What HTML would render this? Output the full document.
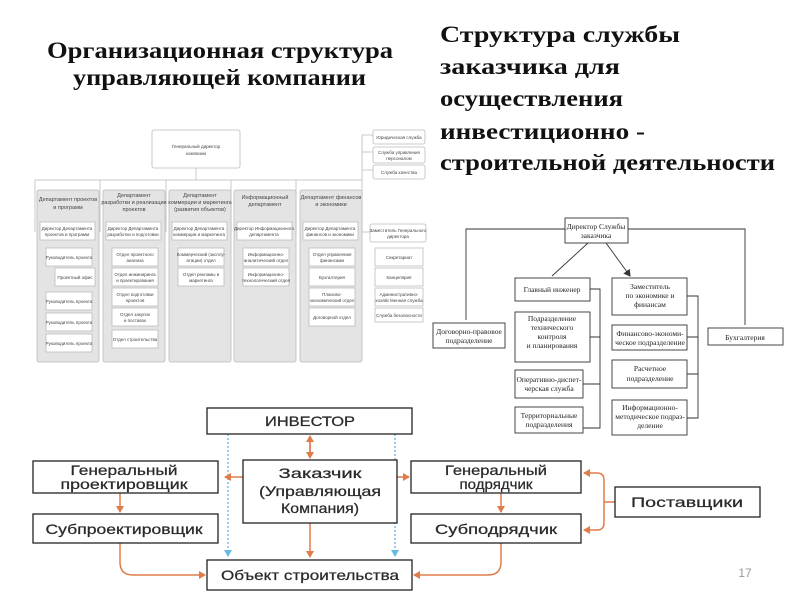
<!DOCTYPE html>
<html><head><meta charset="utf-8"><style>
body{margin:0;background:#fff}
svg text{font-family:"Liberation Sans","DejaVu Sans",sans-serif}
.s{font-family:"Liberation Serif",serif}
</style></head><body>
<svg width="800" height="600" viewBox="0 0 800 600" xmlns="http://www.w3.org/2000/svg">
<defs>
<marker id="o" markerWidth="8" markerHeight="8" refX="6" refY="4" orient="auto" markerUnits="userSpaceOnUse"><path d="M0,0 L7,4 L0,8 z" fill="#e07b4a"/></marker>
<marker id="b" markerWidth="8" markerHeight="8" refX="6" refY="4" orient="auto" markerUnits="userSpaceOnUse"><path d="M0,0 L7,4 L0,8 z" fill="#6ab8e8"/></marker>
<marker id="k" markerWidth="8" markerHeight="8" refX="6" refY="4" orient="auto" markerUnits="userSpaceOnUse"><path d="M0,0 L7,4 L0,8 z" fill="#333"/></marker>
</defs>
<!-- titles -->
<g font-weight="bold" font-size="23" fill="#111">
<text class="s" x="47" y="58" textLength="346" lengthAdjust="spacingAndGlyphs">Организационная  структура</text>
<text class="s" x="73" y="85" textLength="293" lengthAdjust="spacingAndGlyphs">управляющей  компании</text>
</g>
<g font-weight="bold" font-size="23" fill="#111">
<text class="s" x="440" y="42" textLength="240" lengthAdjust="spacingAndGlyphs">Структура   службы</text>
<text class="s" x="440" y="74" textLength="180" lengthAdjust="spacingAndGlyphs">заказчика   для</text>
<text class="s" x="440" y="106" textLength="183" lengthAdjust="spacingAndGlyphs">осуществления</text>
<text class="s" x="440" y="139" textLength="205" lengthAdjust="spacingAndGlyphs">инвестиционно -</text>
<text class="s" x="440" y="170" textLength="335" lengthAdjust="spacingAndGlyphs">строительной  деятельности</text>
</g>
<!-- left org chart -->
<g stroke="#bbb" fill="#fff" stroke-width="0.8">
<rect x="152" y="130" width="88" height="38" rx="2"/>
<path d="M196,168 V180 M35,180 H362 M35,180 V232 M100,180 V232 M166,180 V232 M231,180 V232 M296,180 V232 M362,180 V232 M362,180 V135 H373 M362,152 H373 M362,170 H373 M362,232 H373" fill="none"/>
<g fill="#e4e4e4">
<rect x="37" y="190" width="62" height="172" rx="2"/>
<rect x="103" y="190" width="62" height="172" rx="2"/>
<rect x="169" y="190" width="62" height="172" rx="2"/>
<rect x="234" y="190" width="62" height="172" rx="2"/>
<rect x="300" y="190" width="62" height="172" rx="2"/>
</g>
<rect x="40" y="222" width="55" height="18"/><rect x="106" y="222" width="55" height="18"/><rect x="172" y="222" width="55" height="18"/><rect x="237" y="222" width="55" height="18"/><rect x="303" y="222" width="55" height="18"/>
<rect x="46" y="248" width="46" height="18"/><rect x="55" y="268" width="40" height="18"/><rect x="46" y="292" width="46" height="18"/><rect x="46" y="313" width="46" height="18"/><rect x="46" y="334" width="46" height="18"/>
<rect x="112" y="248" width="46" height="18"/><rect x="112" y="268" width="46" height="18"/><rect x="112" y="288" width="46" height="18"/><rect x="112" y="308" width="46" height="18"/><rect x="112" y="330" width="46" height="18"/>
<rect x="178" y="248" width="46" height="18"/><rect x="178" y="268" width="46" height="18"/>
<rect x="243" y="248" width="46" height="18"/><rect x="243" y="268" width="46" height="18"/>
<rect x="309" y="248" width="46" height="18"/><rect x="309" y="268" width="46" height="18"/><rect x="309" y="288" width="46" height="18"/><rect x="309" y="308" width="46" height="18"/>
<rect x="373" y="130" width="52" height="14" rx="2"/><rect x="373" y="147" width="52" height="16" rx="2"/><rect x="373" y="165" width="52" height="14" rx="2"/>
<rect x="370" y="224" width="56" height="18" rx="2"/><rect x="375" y="248" width="48" height="18"/><rect x="375" y="268" width="48" height="18"/><rect x="375" y="288" width="48" height="18"/><rect x="375" y="308" width="48" height="14"/>
</g>
<g font-size="4.5" fill="#444" text-anchor="middle">
<text x="196" y="148">Генеральный директор</text><text x="196" y="155">компании</text>
<text x="68" y="201" font-size="5.5">Департамент проектов</text><text x="68" y="209" font-size="5.5">и программ</text>
<text x="134" y="197" font-size="5.5">Департамент</text><text x="134" y="204" font-size="5.5">разработки и реализации</text><text x="134" y="211" font-size="5.5">проектов</text>
<text x="200" y="197" font-size="5.5">Департамент</text><text x="200" y="204" font-size="5.5">коммерции и маркетинга</text><text x="200" y="211" font-size="5.5">(развития объектов)</text>
<text x="265" y="199" font-size="5.5">Информационный</text><text x="265" y="206" font-size="5.5">департамент</text>
<text x="331" y="199" font-size="5.5">Департамент финансов</text><text x="331" y="206" font-size="5.5">и экономики</text>
<text x="399" y="139">Юридическая служба</text><text x="399" y="154">Служба управления</text><text x="399" y="160">персоналом</text><text x="399" y="174">Служба качества</text>
<text x="398" y="232">Заместитель Генерального</text><text x="398" y="238">директора</text>
<text x="399" y="259">Секретариат</text><text x="399" y="279">Канцелярия</text><text x="399" y="296">Административно-</text><text x="399" y="302">хозяйственная служба</text><text x="399" y="317">Служба безопасности</text>
<text x="67" y="230">Директор Департамента</text><text x="67" y="236">проектов и программ</text>
<text x="69" y="259">Руководитель проекта</text><text x="75" y="279">Проектный офис</text><text x="69" y="303">Руководитель проекта</text><text x="69" y="324">Руководитель проекта</text><text x="69" y="345">Руководитель проекта</text>
<text x="133" y="230">Директор Департамента</text><text x="133" y="236">разработки и подготовки</text>
<text x="135" y="256">Отдел проектного</text><text x="135" y="262">анализа</text><text x="135" y="276">Отдел инжиниринга</text><text x="135" y="282">и проектирования</text><text x="135" y="296">Отдел подготовки</text><text x="135" y="302">проектов</text><text x="135" y="316">Отдел закупок</text><text x="135" y="322">и поставок</text><text x="135" y="341">Отдел строительства</text>
<text x="199" y="230">Директор Департамента</text><text x="199" y="236">коммерции и маркетинга</text><text x="201" y="256">Коммерческий (эксплу-</text><text x="201" y="262">атации) отдел</text><text x="201" y="276">Отдел рекламы и</text><text x="201" y="282">маркетинга</text>
<text x="264" y="230">Директор Информационного</text><text x="264" y="236">департамента</text><text x="266" y="256">Информационно-</text><text x="266" y="262">аналитический отдел</text><text x="266" y="276">Информационно-</text><text x="266" y="282">технологический отдел</text>
<text x="330" y="230">Директор Департамента</text><text x="330" y="236">финансов и экономики</text><text x="332" y="256">Отдел управления</text><text x="332" y="262">финансами</text><text x="332" y="279">Бухгалтерия</text><text x="332" y="296">Планово-</text><text x="332" y="302">экономический отдел</text><text x="332" y="319">Договорной отдел</text>
</g>
<!-- right chart -->
<g stroke="#333" fill="#fff" stroke-width="0.9">
<path d="M565,229 H466 V320 M628,229 H745 V325 M588,243 L552,276 M606,243 L630,276" fill="none" marker-end="url(#k)"/>
<path d="M590,289 H600 V428 H583 M590,337 H600 M583,384 H600 M687,296 H698 V418 H687 M687,337 H698 M687,374 H698" fill="none"/>
<rect x="565" y="218" width="63" height="25"/>
<rect x="433" y="323" width="72" height="25"/>
<rect x="708" y="328" width="75" height="17"/>
<rect x="515" y="278" width="75" height="23"/>
<rect x="515" y="312" width="75" height="50"/>
<rect x="515" y="370" width="68" height="28"/>
<rect x="515" y="407" width="68" height="26"/>
<rect x="612" y="278" width="75" height="37"/>
<rect x="612" y="325" width="75" height="25"/>
<rect x="612" y="360" width="75" height="28"/>
<rect x="612" y="400" width="75" height="35"/>
</g>
<g font-size="7.5" fill="#222" text-anchor="middle">
<text class="s" x="596" y="229">Директор Службы</text><text class="s" x="596" y="238">заказчика</text>
<text class="s" x="469" y="334">Договорно-правовое</text><text class="s" x="469" y="343">подразделение</text>
<text class="s" x="745" y="340">Бухгалтерия</text>
<text class="s" x="552" y="292">Главный инженер</text>
<text class="s" x="552" y="321">Подразделение</text><text class="s" x="552" y="330">технического</text><text class="s" x="552" y="339">контроля</text><text class="s" x="552" y="348">и планирования</text>
<text class="s" x="549" y="382">Оперативно-диспет-</text><text class="s" x="549" y="391">черская служба</text>
<text class="s" x="549" y="418">Территориальные</text><text class="s" x="549" y="427">подразделения</text>
<text class="s" x="650" y="289">Заместитель</text><text class="s" x="650" y="298">по экономике и</text><text class="s" x="650" y="307">финансам</text>
<text class="s" x="650" y="336">Финансово-экономи-</text><text class="s" x="650" y="345">ческое подразделение</text>
<text class="s" x="650" y="371">Расчетное</text><text class="s" x="650" y="381">подразделение</text>
<text class="s" x="650" y="410">Информационно-</text><text class="s" x="650" y="419">методическое подраз-</text><text class="s" x="650" y="428">деление</text>
</g>
<!-- bottom -->
<g stroke="#5aa9de" stroke-width="1.2" stroke-dasharray="2,2" fill="none">
<path d="M228,434 V556" marker-end="url(#b)"/><path d="M395,434 V556" marker-end="url(#b)"/>
</g>
<g stroke="#e07b4a" stroke-width="1.5" fill="none">
<path d="M310,438 V458" marker-end="url(#o)"/><path d="M310,456 V436" marker-end="url(#o)"/>
<path d="M243,477 H225" marker-end="url(#o)"/><path d="M397,477 H409" marker-end="url(#o)"/>
<path d="M310,523 V557" marker-end="url(#o)"/>
<path d="M120,493 V512" marker-end="url(#o)"/><path d="M501,493 V512" marker-end="url(#o)"/>
<path d="M120,543 V562 Q120,575 133,575 H205" marker-end="url(#o)"/>
<path d="M501,543 V562 Q501,575 488,575 H414" marker-end="url(#o)"/>
<path d="M615,502 H604 M604,502 V480 Q604,473 597,473 H584" marker-end="url(#o)"/>
<path d="M604,502 V523 Q604,530 597,530 H584" marker-end="url(#o)"/>
</g>
<g stroke="#222" stroke-width="1.3" fill="#fff">
<rect x="207" y="408" width="205" height="26"/>
<rect x="33" y="461" width="185" height="32"/>
<rect x="33" y="514" width="185" height="29"/>
<rect x="243" y="460" width="154" height="63"/>
<rect x="411" y="461" width="170" height="32"/>
<rect x="411" y="514" width="170" height="29"/>
<rect x="615" y="487" width="145" height="30"/>
<rect x="207" y="560" width="205" height="30"/>
</g>
<g font-size="14" fill="#2a2a2a" text-anchor="middle" stroke="#2a2a2a" stroke-width="0.25">
<text x="310" y="426" textLength="90" lengthAdjust="spacingAndGlyphs">ИНВЕСТОР</text>
<text x="124" y="475" textLength="107" lengthAdjust="spacingAndGlyphs">Генеральный</text><text x="124" y="489" textLength="127" lengthAdjust="spacingAndGlyphs">проектировщик</text>
<text x="124" y="534" textLength="157" lengthAdjust="spacingAndGlyphs">Субпроектировщик</text>
<text x="320" y="478" textLength="83" lengthAdjust="spacingAndGlyphs">Заказчик</text><text x="320" y="496" textLength="122" lengthAdjust="spacingAndGlyphs">(Управляющая</text><text x="320" y="513" textLength="78" lengthAdjust="spacingAndGlyphs">Компания)</text>
<text x="496" y="475" textLength="102" lengthAdjust="spacingAndGlyphs">Генеральный</text><text x="496" y="489" textLength="73" lengthAdjust="spacingAndGlyphs">подрядчик</text>
<text x="496" y="534" textLength="122" lengthAdjust="spacingAndGlyphs">Субподрядчик</text>
<text x="687" y="507" textLength="112" lengthAdjust="spacingAndGlyphs">Поставщики</text>
<text x="310" y="580" textLength="178" lengthAdjust="spacingAndGlyphs">Объект строительства</text>
</g>
<text x="745" y="577" font-size="12" fill="#999" text-anchor="middle">17</text>
</svg>
</body></html>
